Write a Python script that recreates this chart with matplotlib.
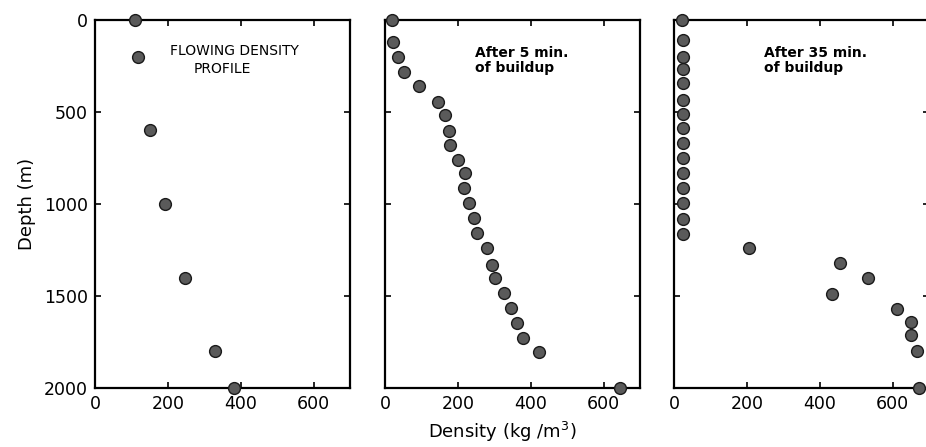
import numpy as np
import matplotlib
matplotlib.use("Agg")
import matplotlib.pyplot as plt

# Flowing density profile
flow_density = [110, 119, 150, 191, 248, 329, 381]
flow_depth = [0, 200, 600, 1000, 1400, 1800, 2000]

# After 5 min of buildup
b5_density = [20, 23, 35, 51, 92, 145, 164, 175, 179, 200, 219, 217, 230,
              244, 253, 279, 294, 303, 326, 345, 361, 380, 423, 646]
b5_depth = [0, 118, 199, 281, 357, 444, 516, 603, 679, 761, 833, 915, 996,
            1078, 1159, 1241, 1332, 1404, 1486, 1567, 1649, 1726, 1806, 2000]

# After 35 min of buildup
b35_density = [23, 25, 25, 25, 25, 25, 25, 25, 25, 25, 25, 25, 25, 25, 25,
               205, 457, 533, 434, 613, 650, 650, 667, 672]
b35_depth = [0, 109, 203, 268, 344, 435, 511, 589, 670, 752, 833, 915, 993,
             1083, 1165, 1237, 1322, 1404, 1491, 1571, 1640, 1712, 1797, 2000]

x_ticks = [0, 200, 400, 600]
y_ticks = [0, 500, 1000, 1500, 2000]

W, H = 926, 447
fig = plt.figure(figsize=(W / 100, H / 100), dpi=100)

lefts = [95, 385, 674]
pw = 255
top, bottom = 20, 388

panels = [
    (flow_density, flow_depth),
    (b5_density, b5_depth),
    (b35_density, b35_depth),
]

axes = []
for i, (xs, ys) in enumerate(panels):
    ax = fig.add_axes([lefts[i] / W, 1 - bottom / H, pw / W, (bottom - top) / H])
    ax.plot(xs, ys, 'o', ms=8.5, mfc='#5a5a5a', mec='#1a1a1a', mew=1.0,
            clip_on=False, zorder=5)
    ax.set_xlim(0, 700)
    ax.set_ylim(2000, 0)
    ax.set_xticks(x_ticks)
    ax.set_yticks(y_ticks)
    ax.set_xticklabels([str(t) for t in x_ticks], fontsize=12.5)
    if i == 0:
        ax.set_yticklabels([str(t) for t in y_ticks], fontsize=12.5)
        ax.set_ylabel('Depth (m)', fontsize=13, labelpad=6)
    else:
        ax.set_yticklabels([])
    ax.tick_params(direction='in', top=True, right=True, length=4, width=1.2,
                   pad=5, colors='black')
    for s in ax.spines.values():
        s.set_linewidth(1.6)
    axes.append(ax)

ax1, ax2, ax3 = axes
ax1.text(0.296, 0.935, 'FLOWING DENSITY', transform=ax1.transAxes,
         fontsize=10, va='top', ha='left')
ax1.text(0.387, 0.885, 'PROFILE', transform=ax1.transAxes,
         fontsize=10, va='top', ha='left')
ax2.text(0.353, 0.93, 'After 5 min.\nof buildup', transform=ax2.transAxes,
         fontsize=10, fontweight='bold', va='top', ha='left', linespacing=1.15)
ax3.text(0.354, 0.93, 'After 35 min.\nof buildup', transform=ax3.transAxes,
         fontsize=10, fontweight='bold', va='top', ha='left', linespacing=1.15)

fig.text(502 / W, 1 - 432 / H, 'Density (kg /m$^3$)', fontsize=13,
         ha='center', va='center')

fig.savefig('out.png', dpi=100, facecolor='white')
